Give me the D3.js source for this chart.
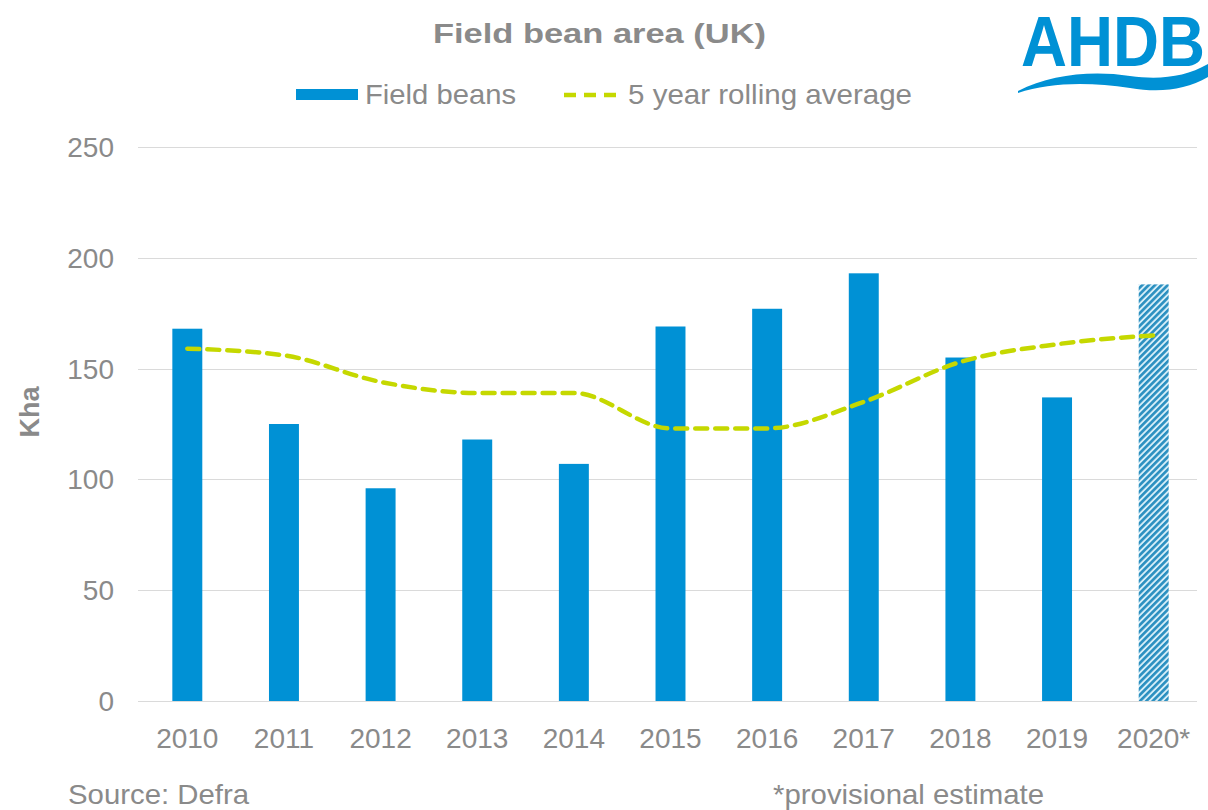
<!DOCTYPE html>
<html>
<head>
<meta charset="utf-8">
<script src="https://cdn.jsdelivr.net/npm/d3@7"></script>
<style>
  body { margin: 0; background: #fff; }
  svg text { font-family: "Liberation Sans", Arial, sans-serif; }
</style>
</head>
<body>
<svg id="chart" width="1208" height="810"></svg>
<script>
// data
const years = ['2010', '2011', '2012', '2013', '2014', '2015', '2016', '2017', '2018', '2019', '2020*']
const beans = [168, 125, 96, 118, 107, 169, 177, 193, 155, 137, 188]
const rollingAvg = [159, 156, 144, 139, 139, 123, 123, 135, 153, 161, 165]
const yTicks = [0, 50, 100, 150, 200, 250]

const blue = '#0091d5'
const lime = '#c5d800'
const grey = '#8a8a8a'

const svg = d3.select('#chart')

const x = d3.scaleBand()
    .domain(years)
    .range([139, 1202])
    .paddingInner(0.69)
    .paddingOuter(0.345)

const y = d3.scaleLinear()
    .domain([0, 250])
    .range([701, 147])

// hatch for the provisional year
const defs = svg.append('defs')
const pat = defs.append('pattern')
    .attr('id', 'hatch')
    .attr('patternUnits', 'userSpaceOnUse')
    .attr('width', 4.5)
    .attr('height', 4.5)
    .attr('patternTransform', 'rotate(45)')
pat.append('rect').attr('width', 4.5).attr('height', 4.5).attr('fill', '#d6eef8')
pat.append('rect').attr('width', 2.6).attr('height', 4.5).attr('fill', '#2a8fc0')

// gridlines
svg.append('g')
    .selectAll('line')
    .data(yTicks)
    .enter()
    .append('line')
    .attr('x1', 138)
    .attr('x2', 1197)
    .attr('y1', d => Math.round(y(d)) + 0.5)
    .attr('y2', d => Math.round(y(d)) + 0.5)
    .attr('stroke', '#dadada')
    .attr('stroke-width', 1)

// y axis labels
svg.append('g')
    .selectAll('text')
    .data(yTicks)
    .enter()
    .append('text')
    .attr('x', 114)
    .attr('y', d => y(d) + 10)
    .attr('text-anchor', 'end')
    .attr('font-size', 28)
    .attr('fill', grey)
    .text(d => d)

svg.append('text')
    .attr('transform', 'translate(39,412) rotate(-90)')
    .attr('text-anchor', 'middle')
    .attr('font-size', 27)
    .attr('font-weight', 'bold')
    .attr('fill', grey)
    .text('Kha')

// bars
svg.append('g')
    .selectAll('rect')
    .data(beans)
    .enter()
    .append('rect')
    .attr('x', (d, i) => x(years[i]))
    .attr('width', x.bandwidth())
    .attr('y', d => y(d))
    .attr('height', d => y(0) - y(d))
    .attr('fill', (d, i) => i === years.length - 1 ? 'url(#hatch)' : blue)

// 5 year rolling average
const line = d3.line()
    .x((d, i) => x(years[i]) + x.bandwidth() / 2)
    .y(d => y(d))
    .curve(d3.curveMonotoneX)

svg.append('path')
    .datum(rollingAvg)
    .attr('d', line)
    .attr('fill', 'none')
    .attr('stroke', lime)
    .attr('stroke-width', 4.5)
    .attr('stroke-dasharray', '12 8')
    .attr('stroke-linecap', 'round')

// x labels
svg.append('g')
    .selectAll('text')
    .data(years)
    .enter()
    .append('text')
    .attr('x', d => x(d) + x.bandwidth() / 2)
    .attr('y', 748)
    .attr('text-anchor', 'middle')
    .attr('font-size', 28)
    .attr('fill', grey)
    .text(d => d)

// title
svg.append('text')
    .attr('x', 433)
    .attr('y', 43)
    .attr('font-size', 28)
    .attr('font-weight', 'bold')
    .attr('fill', grey)
    .attr('textLength', 333)
    .attr('lengthAdjust', 'spacingAndGlyphs')
    .text('Field bean area (UK)')

// legend
const legend = svg.append('g')
legend.append('rect')
    .attr('x', 296).attr('y', 89).attr('width', 62).attr('height', 11)
    .attr('fill', blue)
legend.append('text')
    .attr('x', 365).attr('y', 104)
    .attr('font-size', 28).attr('fill', grey)
    .attr('textLength', 151).attr('lengthAdjust', 'spacingAndGlyphs')
    .text('Field beans')
legend.append('line')
    .attr('x1', 564).attr('x2', 620).attr('y1', 95).attr('y2', 95)
    .attr('stroke', lime).attr('stroke-width', 4.5)
    .attr('stroke-dasharray', '12 8')
legend.append('text')
    .attr('x', 628).attr('y', 104)
    .attr('font-size', 28).attr('fill', grey)
    .attr('textLength', 284).attr('lengthAdjust', 'spacingAndGlyphs')
    .text('5 year rolling average')

// footer
svg.append('text')
    .attr('x', 68).attr('y', 804)
    .attr('font-size', 28).attr('fill', grey)
    .attr('textLength', 181).attr('lengthAdjust', 'spacingAndGlyphs')
    .text('Source: Defra')
svg.append('text')
    .attr('x', 773).attr('y', 804)
    .attr('font-size', 28).attr('fill', grey)
    .attr('textLength', 271).attr('lengthAdjust', 'spacingAndGlyphs')
    .text('*provisional estimate')

// logo
const logo = svg.append('g')
logo.append('text')
    .attr('transform', 'translate(1021,66) scale(0.91,1)')
    .attr('font-size', 70)
    .attr('font-weight', 'bold')
    .attr('fill', blue)
    .text('AHDB')
logo.append('path')
    .attr('d', 'M1018,91 C1050,75 1090,70 1130,76 C1160,80 1185,77 1208,64 L1208,77 C1185,90 1160,93 1130,88 C1090,82 1050,82 1018,93 Z')
    .attr('fill', blue)
</script>
</body>
</html>
